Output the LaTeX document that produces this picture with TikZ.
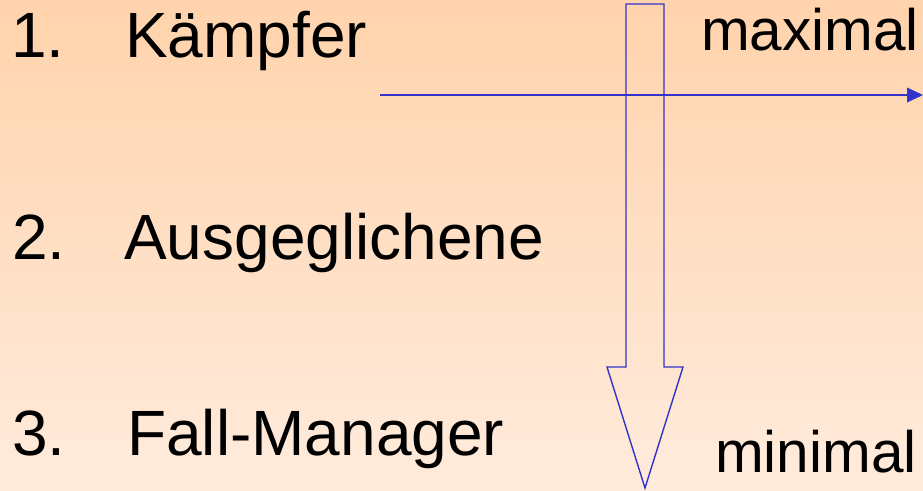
\documentclass[tikz,border=0pt]{standalone}
\usepackage{fontspec}
\setmainfont{Liberation Sans}
\definecolor{bgtop}{RGB}{255,211,172}
\definecolor{bgbot}{RGB}{255,235,220}
\definecolor{arrowblue}{RGB}{51,51,204}
\begin{document}
\begin{tikzpicture}[x=1pt,y=-1pt,
  bigtxt/.style={inner sep=0pt,anchor=base west,font=\fontsize{64}{70}\selectfont},
  sidetxt/.style={inner sep=0pt,anchor=base west,font=\fontsize{58.5}{64}\selectfont},
  blueline/.style={draw=arrowblue,line width=1.8pt},
  blockarrow/.style={draw=arrowblue,line width=1.4pt,line join=miter}]
\shade[top color=bgtop,bottom color=bgbot] (0,0) rectangle (923,490);
\useasboundingbox (0,0) rectangle (923,490);
\node[bigtxt] (n1) at (11,57) {1.};
\node[bigtxt] (t1) at (125,57) {Kämpfer};
\node[bigtxt] (n2) at (12,259) {2.};
\node[bigtxt] (t2) at (124,259) {Ausgeglichene};
\node[bigtxt] (n3) at (12,455) {3.};
\node[bigtxt] (t3) at (127,455) {Fall-Manager};
\node[sidetxt] (mx) at (701,50) {maximal};
\node[sidetxt] (mn) at (715,472) {minimal};
% hollow block arrow
\draw[blockarrow] (626,4) -- (664,4) -- (664,367) -- (683,367) -- (645,488)
  -- (607,367) -- (626,367) -- cycle;
% horizontal arrow
\coordinate (hs) at (380,95);
\coordinate (he) at (922,95);
\draw[blueline] (hs) -- (908,95);
\fill[arrowblue] (907,87.5) -- (923,95) -- (907,102.5) -- cycle;
\end{tikzpicture}
\end{document}
